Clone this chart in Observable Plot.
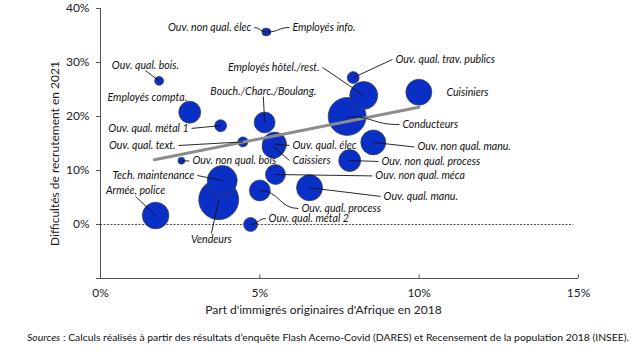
<!DOCTYPE html>
<html>
<head>
<meta charset="utf-8">
<script src="https://cdn.jsdelivr.net/npm/d3@7"></script>
<script src="https://cdn.jsdelivr.net/npm/@observablehq/plot@0.6"></script>
<style>
  body { margin: 0; background: #fff; font-family: Lato, "Open Sans", sans-serif; }
  #caption { margin: 12px 0 0 27px; font-size: 10.4px; line-height: 14px; color: #111; white-space: nowrap; }
</style>
</head>
<body>
<div id="chart"></div>
<div id="caption"><i>Sources</i> : Calculs réalisés à partir des résultats d’enquête Flash Acemo-Covid (DARES) et Recensement de la population 2018 (INSEE).</div>
<script>
// Métiers (categories)
const names = [
  "Ouv. non qual. élec", "Employés info.", "Ouv. qual. bois.", "Employés compta.",
  "Ouv. qual. métal 1", "Bouch./Charc./Boulang.", "Ouv. qual. text.", "Caissiers",
  "Ouv. qual. élec", "Ouv. non qual. bois", "Conducteurs", "Employés hôtel./rest.",
  "Ouv. qual. trav. publics", "Cuisiniers", "Ouv. non qual. manu.", "Ouv. non qual. process",
  "Ouv. non qual. méca", "Ouv. qual. manu.", "Ouv. qual. process", "Ouv. qual. métal 2",
  "Tech. maintenance", "Vendeurs", "Armée, police"
];
// Part d'immigrés originaires d'Afrique en 2018 (%)
const partAfrique = [5.19, 5.24, 1.84, 2.80, 3.77, 5.15, 4.47, 5.43, 5.46, 2.54, 7.74, 8.26,
  7.93, 9.99, 8.56, 7.82, 5.49, 6.56, 5.00, 4.71, 3.82, 3.71, 1.73];
// Difficultés de recrutement en 2021 (%)
const difficultes = [35.65, 35.65, 26.6, 20.8, 18.3, 18.9, 15.3, 14.4, 14.9, 11.8, 20.0, 23.9,
  27.2, 24.5, 15.2, 11.85, 9.26, 6.8, 6.3, 0.0, 8.15, 4.6, 1.67];
// Poids (taille des bulles, unités arbitraires)
const poids = [16, 12, 20, 121, 36, 110, 25, 132, 144, 12, 361, 196,
  36, 169, 156, 121, 100, 169, 110, 49, 225, 400, 177];
// Annotation anchors (in data units) and label placement
const labelX = [4.83, 5.93, 1.41, 1.47, 2.86, 5.11, 2.45, 5.93, 5.93, 2.79, 9.38, 6.97,
  9.16, 10.76, 9.85, 8.72, 8.53, 8.79, 6.21, 5.18, 3.04, 3.48, 1.10];
const labelY = [36.48, 36.48, 28.5, 23.5, 17.8, 23.7, 14.63, 11.85, 14.63, 11.76, 18.5, 29.07,
  30.56, 24.44, 14.35, 11.67, 9.0, 5.2, 2.96, 1.1, 9.07, -1.67, 5.19];
const labelAnchor = ["end", "start", "above", "middle", "end", "above", "end", "start",
  "start", "start", "start", "end", "start", "start", "start", "start", "start", "start",
  "start", "start", "end", "below", "above"];
const leader = [true, true, true, false, true, true, true, true, true, true, true, true,
  true, false, true, true, true, true, true, true, true, true, true];
// Leader style: curved (true) or straight (false)
const leaderCurved = [true, true, false, false, false, false, false, false, false, false, true, false,
  false, false, false, false, false, false, true, true, false, false, false];
// Trend line endpoints
const trendX = [1.69, 9.99];
const trendY = [11.98, 21.72];
const xTicks = [0, 5, 10, 15];
const yTicks = [-10, 0, 10, 20, 30, 40];

const rows = names.map((name, i) => ({
  name, x: partAfrique[i], y: difficultes[i], w: poids[i],
  lx: labelX[i], ly: labelY[i], anchor: labelAnchor[i], leader: leader[i], curved: leaderCurved[i]
}));
const trend = trendX.map((x, i) => ({x, y: trendY[i]}));

const labelFont = {fontStyle: "italic", fontSize: 10.6, fill: "#111", fontFamily: "Lato, sans-serif"};
const byAnchor = a => rows.filter(d => d.anchor === a);
const leaderStyle = {x1: "x", y1: "y", x2: "lx", y2: "ly", stroke: "#111", strokeWidth: 0.9};

const chart = Plot.plot({
  width: 636,
  height: 318,
  marginLeft: 100,
  marginRight: 58,
  marginTop: 8,
  marginBottom: 40,
  style: {fontFamily: "Lato, sans-serif", fontSize: "12px", color: "#222", background: "#fff"},
  x: {domain: [0, 15], axis: null},
  y: {domain: [-10, 40], axis: null},
  r: {type: "sqrt", domain: [0, 400], range: [0, 20]},
  marks: [
    Plot.axisY(yTicks, {tickSize: 4, tickPadding: 7, stroke: "#555", fontSize: 12,
      tickFormat: d => d < 0 ? "" : d + "%", label: null}),
    Plot.axisX(xTicks, {tickSize: 0, tickPadding: 10, fontSize: 12, tickFormat: d => d + "%", label: null}),
    Plot.ruleX([0], {stroke: "#555", strokeWidth: 1}),
    Plot.ruleY([-10], {x1: 0, x2: 15, stroke: "#555", strokeWidth: 1}),
    Plot.ruleX(xTicks, {x: d => d, y1: -10, y2: -9.35, stroke: "#555", strokeWidth: 1}),
    Plot.ruleY([0], {x1: 0, x2: 14.85, stroke: "#222", strokeWidth: 0.8, strokeDasharray: "2,1.5"}),
    Plot.dot(rows, {x: "x", y: "y", r: "w", fill: "#0a2fc6", stroke: "#444", strokeWidth: 0.7}),
    Plot.line(trend, {x: "x", y: "y", stroke: "#8c8c8c", strokeWidth: 3}),
    Plot.link(rows.filter(d => d.leader && !d.curved), leaderStyle),
    Plot.link(rows.filter(d => d.leader && d.curved), {...leaderStyle, curve: "bump-x"}),
    Plot.text(byAnchor("start"), {x: "lx", y: "ly", text: "name", textAnchor: "start", dx: 3, ...labelFont}),
    Plot.text(byAnchor("end"), {x: "lx", y: "ly", text: "name", textAnchor: "end", dx: -3, ...labelFont}),
    Plot.text(byAnchor("middle"), {x: "lx", y: "ly", text: "name", textAnchor: "middle", ...labelFont}),
    Plot.text(byAnchor("above"), {x: "lx", y: "ly", text: "name", textAnchor: "middle", lineAnchor: "bottom", dy: -2, ...labelFont}),
    Plot.text(byAnchor("below"), {x: "lx", y: "ly", text: "name", textAnchor: "middle", lineAnchor: "top", dy: 2, ...labelFont}),
    Plot.text(["Part d'immigrés originaires d'Afrique en 2018"], {frameAnchor: "bottom", textAnchor: "middle", lineAnchor: "middle", dy: 32, dx: -16, fontSize: 12, fill: "#222"}),
    Plot.text(["Difficultés de recrutement en 2021"], {frameAnchor: "left", textAnchor: "middle", lineAnchor: "middle", dx: -45, dy: 10, rotate: -90, fontSize: 12, fill: "#222"})
  ]
});
document.getElementById("chart").appendChild(chart);
</script>
</body>
</html>
